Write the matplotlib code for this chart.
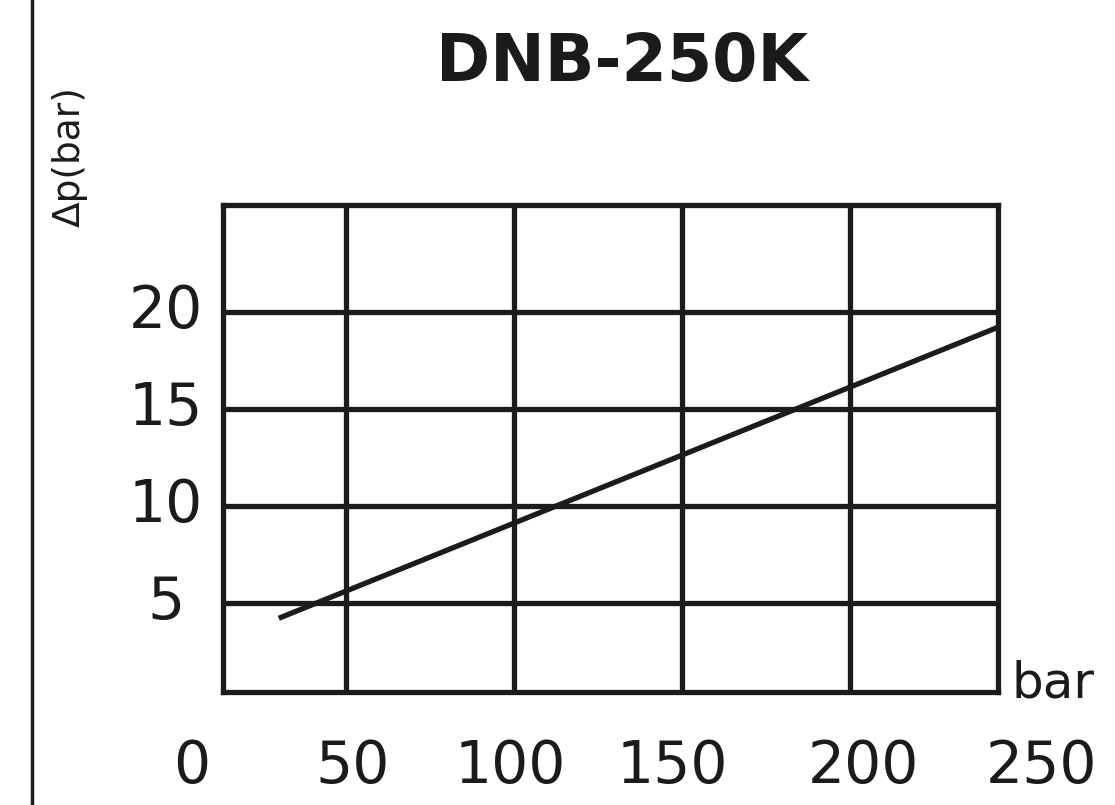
import matplotlib
matplotlib.use("Agg")
import matplotlib.pyplot as plt
from matplotlib.lines import Line2D

# data
pressure = [30, 244]          # bar
delta_p = [4.2, 19.2]         # Δp (bar)
x_ticks = [0, 50, 100, 150, 200, 250]
y_ticks = [5, 10, 15, 20]
title = "DNB-250K"

INK = "#1b1b1b"
LW = 3.8

fig = plt.figure(figsize=(11.15, 8.05), dpi=100)
fig.patch.set_facecolor("white")

ax = fig.add_axes([223 / 1115, 113 / 805, 775 / 1115, 487 / 805])
ax.plot(pressure, delta_p, color=INK, lw=LW, solid_capstyle="butt", zorder=3)

ax.set_xlim(13.4, 244)
ax.set_ylim(0.4, 25.5)
ax.set_xticks(x_ticks[1:-1])
ax.set_yticks(y_ticks)
ax.grid(True, color=INK, lw=LW)
ax.tick_params(length=0, labelbottom=False, labelleft=False)
for s in ax.spines.values():
    s.set_linewidth(LW)
    s.set_color(INK)

# tick labels (in the original they sit a bit off the grid lines)
xlab_pos = [4, 52, 99, 147, 204, 257]
for pos, v in zip(xlab_pos, x_ticks):
    ax.text(pos, -0.187, str(v), transform=ax.get_xaxis_transform(),
            ha="center", va="baseline", fontsize=42, color=INK, clip_on=False)
for v in y_ticks:
    ax.text(-0.0735, v, str(v), transform=ax.get_yaxis_transform(),
            ha="center", va="center", fontsize=42, color=INK, clip_on=False)

fig.text(70 / 1115, 1 - 157 / 805, "Δp(bar)", rotation=90, ha="center",
         va="center", fontsize=27, color=INK)
fig.text(1012 / 1115, 1 - 697 / 805, "bar", ha="left", va="baseline",
         fontsize=36, color=INK)
fig.text(622 / 1115, 1 - 63 / 805, title, ha="center", va="center",
         fontsize=47, fontweight="bold", color=INK)

# left border line of the sheet
fig.add_artist(Line2D([32 / 1115, 32 / 1115], [0, 1], transform=fig.transFigure,
                      color=INK, lw=2.5))

fig.savefig("out.png", dpi=100, facecolor="white")
